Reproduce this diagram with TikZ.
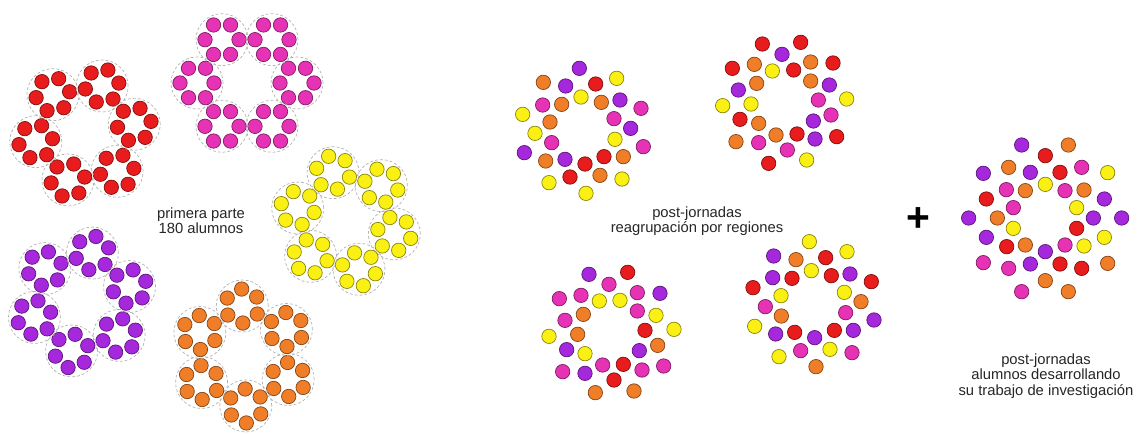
\documentclass[tikz,border=0pt]{standalone}
\usepackage{fontspec}
\setmainfont{Liberation Sans}
\usetikzlibrary{positioning,calc}
\definecolor{ro}{RGB}{232,28,28}
\definecolor{rs}{RGB}{230,50,180}
\definecolor{am}{RGB}{250,240,20}
\definecolor{mo}{RGB}{165,40,220}
\definecolor{na}{RGB}{240,125,40}

\begin{document}
\begin{tikzpicture}[x=0.025cm,y=-0.025cm,
  dot/.style={fill=#1,draw=#1!55!black,line width=0.5pt},
  grupo/.style={draw=gray!60,dash pattern=on 2pt off 1.5pt,line width=0.5pt},
  lbl/.style={align=center,font=\fontsize{10.5}{10.8}\selectfont,text=black!85}]
\useasboundingbox (0,0) rectangle (1139,434);
% primera parte: 5 flores, 6 grupos de 6 alumnos
\foreach \cx/\cy/\rot/\col in {85/133/50/ro, 247/83/0/rs, 346/221/15/am, 82/302/42/mo, 244/356/28/na}{
  \foreach \g [evaluate=\g as \ga using \rot+60*\g] in {0,...,5}{
    \draw[grupo] ($(\cx,\cy)+(\ga:50)$) circle[radius=0.65cm];
    \foreach \d in {0,...,5}
      \draw[dot=\col] ($(\cx,\cy)+(\ga:50)+(\ga+60*\d:17)$) circle[radius=0.18cm];
  }
}
\node[lbl] (primera) at (201,221) {primera parte\\180 alumnos};
% post-jornadas: regiones
\begin{scope}[shift={(500,50)},x=0.008333cm,y=-0.008333cm]
\foreach \c/\px/\py in {mo/238/55, na/130/97, mo/197/108, ro/287/102, am/350/85, rs/128/165, na/185/163, am/243/141, na/304/157, mo/360/150, rs/423/175, am/68/193, na/150/216, rs/342/206, mo/392/235, am/105/250, rs/155/278, am/345/268, rs/430/290, mo/73/308, na/137/333, mo/195/328, ro/255/342, ro/312/320, na/370/320, ro/210/381, na/300/376, am/147/398, am/366/387, am/258/430}
  \draw[dot=\c] (\px,\py) circle[radius=0.18cm];
\end{scope}
\begin{scope}[shift={(700,30)},x=0.008333cm,y=-0.008333cm]
\foreach \c/\px/\py in {ro/187/42, ro/302/37, mo/246/73, na/163/103, ro/97/115, am/217/123, ro/281/120, na/332/96, ro/399/99, na/170/160, mo/115/180, na/332/153, mo/388/165, am/68/227, am/153/222, rs/355/210, am/440/207, ro/120/268, na/176/280, mo/340/273, rs/393/255, na/108/335, rs/176/338, na/228/315, ro/291/312, mo/345/327, ro/410/320, rs/262/360, ro/206/400, am/320/390}
  \draw[dot=\c] (\px,\py) circle[radius=0.18cm];
\end{scope}
\begin{scope}[shift={(530,250)},x=0.008333cm,y=-0.008333cm]
\foreach \c/\px/\py in {mo/177/73, ro/293/67, rs/237/103, rs/88/146, rs/153/136, am/208/153, am/270/151, rs/322/128, mo/390/130, rs/322/183, am/378/196, rs/105/211, na/160/193, am/57/259, na/143/253, ro/345/241, am/432/238, mo/110/299, am/165/311, mo/328/302, na/383/286, rs/98/365, mo/165/370, rs/218/345, ro/280/343, rs/336/360, rs/401/348, ro/252/390, na/196/428, na/312/423}
  \draw[dot=\c] (\px,\py) circle[radius=0.18cm];
\end{scope}
\begin{scope}[shift={(730,235)},x=0.008333cm,y=-0.008333cm]
\foreach \c/\px/\py in {am/238/20, mo/131/63, na/198/74, ro/287/68, am/351/50, mo/128/128, ro/186/130, am/244/107, ro/304/122, mo/360/117, ro/424/140, ro/69/158, am/153/182, am/343/172, na/393/200, rs/106/215, na/154/243, rs/347/233, am/74/274, mo/432/255, mo/137/297, ro/194/292, mo/254/308, ro/313/286, mo/370/286, am/147/365, rs/212/347, am/300/343, rs/366/353, na/258/395}
  \draw[dot=\c] (\px,\py) circle[radius=0.18cm];
\end{scope}
\node[lbl] (post) at (697,221) {post-jornadas\\reagrupación por regiones};
\node[font=\fontsize{29}{29}\selectfont\bfseries] (mas) at (918,220) {+};
% post-jornadas: investigacion
\begin{scope}[shift={(940,120)},x=0.008333cm,y=-0.008333cm]
\foreach \c/\px/\py in {mo/245/75, na/385/75, ro/316/107, mo/130/160, na/206/142, mo/271/157, ro/360/157, rs/425/142, am/503/158, am/316/193, rs/199/209, na/256/212, rs/375/212, na/432/210, ro/139/237, rs/220/263, am/410/263, mo/493/237, mo/86/294, na/172/294, mo/460/294, mo/545/294, am/220/325, ro/410/325, mo/139/352, ro/200/380, na/256/375, mo/316/395, rs/375/375, am/432/378, am/493/352, rs/130/428, rs/206/445, mo/271/432, ro/360/432, ro/425/445, na/503/430, na/316/482, rs/245/515, na/385/515}
  \draw[dot=\c] (\px,\py) circle[radius=0.18cm];
\end{scope}
\node[lbl] (trabajo) at (1046,376) {post-jornadas\\alumnos desarrollando\\su trabajo de investigación};
\end{tikzpicture}
\end{document}
